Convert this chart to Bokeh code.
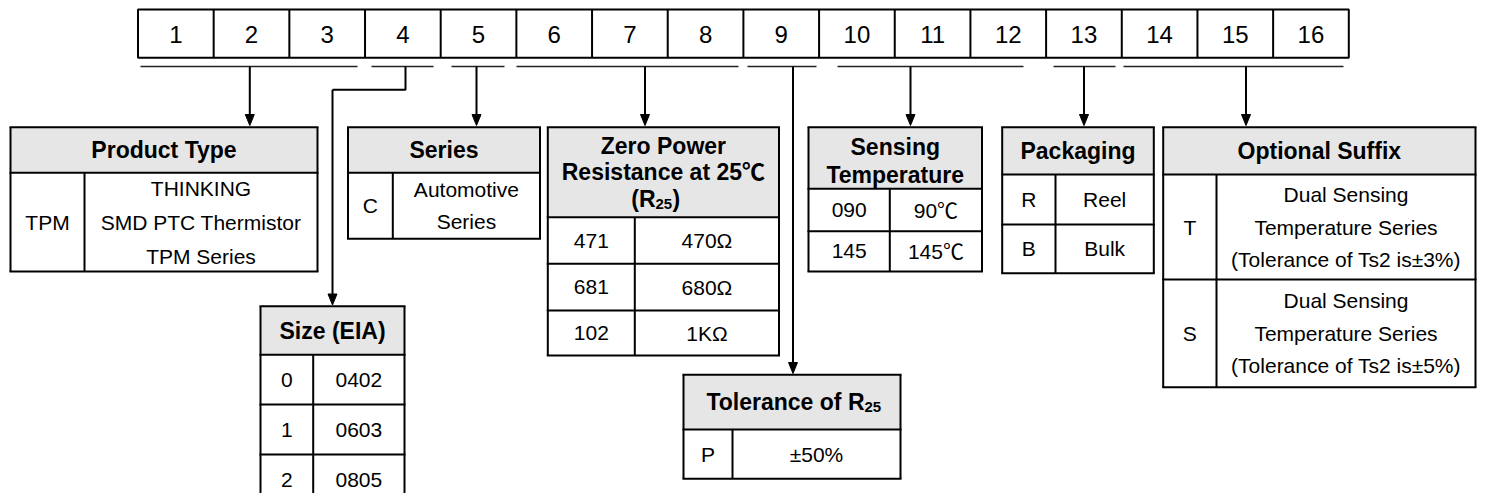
from bokeh.plotting import figure
from bokeh.models import Range1d
from bokeh.core.properties import value
from bokeh.embed import file_html
from bokeh.resources import INLINE

# ---------------- content ----------------
positions = [str(i) for i in range(1, 17)]

product_header = ["Product Type"]
product_codes = ["TPM"]
product_desc = [["THINKING", "SMD PTC Thermistor", "TPM Series"]]

series_header = ["Series"]
series_codes = ["C"]
series_desc = [["Automotive", "Series"]]

size_header = ["Size (EIA)"]
size_codes = ["0", "1", "2"]
size_desc = [["0402"], ["0603"], ["0805"]]

res_header = ["Zero Power", "Resistance at 25\u2103"]
res_codes = ["471", "681", "102"]
res_desc = [["470\u03a9"], ["680\u03a9"], ["1K\u03a9"]]

tol_codes = ["P"]
tol_desc = [["\u00b150%"]]

sens_header = ["Sensing", "Temperature"]
sens_codes = ["090", "145"]
sens_desc = [["90\u2103"], ["145\u2103"]]

pack_header = ["Packaging"]
pack_codes = ["R", "B"]
pack_desc = [["Reel"], ["Bulk"]]

suffix_header = ["Optional Suffix"]
suffix_codes = ["T", "S"]
suffix_desc = [["Dual Sensing", "Temperature Series", "(Tolerance of Ts2 is\u00b13%)"],
               ["Dual Sensing", "Temperature Series", "(Tolerance of Ts2 is\u00b15%)"]]

# ---------------- figure ----------------
W, H = 1480, 493
p = figure(width=W, height=H, x_range=Range1d(0, W), y_range=Range1d(H, 0),
           output_backend="svg", toolbar_location=None, min_border=0,
           x_axis_location=None, y_axis_location=None)
p.grid.visible = False
p.outline_line_color = None
p.background_fill_color = "white"
p.border_fill_color = "white"

FONT = value("Liberation Sans, Noto Sans CJK SC")
LW = 2
HEAD_FILL = "#e6e6e6"


def txt(x, y, s, size=21, bold=False, align="center"):
    p.text(x=[x], y=[y], text=[s], text_font=FONT, text_font_size=f"{size}px",
           text_font_style="bold" if bold else "normal", text_align=align,
           text_baseline="middle", text_color="black")


def hline(x0, x1, y, lw=LW, color="black"):
    p.segment(x0=[x0], y0=[y], x1=[x1], y1=[y], line_width=lw, line_color=color)


def vline(x, y0, y1, lw=LW, color="black"):
    p.segment(x0=[x], y0=[y0], x1=[x], y1=[y1], line_width=lw, line_color=color)


def table(x0, xs, x1, ys, header, header_ys, codes, descs, spacing=33):
    top, hb = ys[0], ys[1]
    p.quad(left=[x0], right=[x1], top=[top], bottom=[hb], fill_color=HEAD_FILL, line_color=None)
    for y in ys:
        hline(x0 - 1, x1 + 1, y)
    vline(x0, top, ys[-1])
    vline(x1, top, ys[-1])
    vline(xs, hb, ys[-1])
    xc = (x0 + x1) / 2
    for line, y in zip(header, header_ys):
        txt(xc, y, line, size=23, bold=True)
    for i, (c, d) in enumerate(zip(codes, descs)):
        yc = (ys[i + 1] + ys[i + 2]) / 2
        txt((x0 + xs) / 2, yc, c)
        n = len(d)
        for k, s in enumerate(d):
            txt((xs + x1) / 2, yc + (k - (n - 1) / 2) * spacing, s)


# ---------------- number strip ----------------
bx0, cw, by0, by1 = 137.5, 75.675, 9, 57.3
p.quad(left=[bx0], right=[bx0 + cw * len(positions)], top=[by0], bottom=[by1],
       fill_color=None, line_color="black", line_width=LW)
for i, s in enumerate(positions):
    if i > 0:
        vline(bx0 + i * cw, by0, by1)
    txt(bx0 + (i + 0.5) * cw, (by0 + by1) / 2 + 1, s, size=24)

# ---------------- underlines & arrows ----------------
UY = 66
for a, b in [(140, 357), (371, 433), (451, 504), (516, 738), (747, 816),
             (837, 1023), (1053, 1115), (1123, 1343)]:
    hline(a, b, UY, lw=1.6, color="#222222")


def arrow(x, y0, tip):
    vline(x, y0, tip - 6)
    p.patch(x=[x - 4.5, x + 4.5, x], y=[tip - 11, tip - 11, tip], fill_color="black",
            line_color="black", line_width=1)


for x in [249.3, 476, 644.5, 910, 1083.5, 1245.5]:
    arrow(x, UY, 125)

# Size connector
p.line(x=[405, 405, 332], y=[UY, 89.3, 89.3], line_width=LW, line_color="black")
arrow(332, 89.3, 304.5)
# Tolerance connector
arrow(792.5, UY, 373)

# ---------------- tables ----------------
table(10, 84, 317, [126.7, 172.3, 271], product_header, [149.5], product_codes, product_desc, spacing=34)
table(347.5, 392.3, 539.5, [126.7, 172.3, 238.3], series_header, [149.5], series_codes, series_desc, spacing=32)
table(260, 312.7, 404, [305.7, 354.3, 404, 454, 504], size_header, [330], size_codes, size_desc)
table(547.3, 634.3, 778.5, [126.7, 216.7, 263.3, 310, 355], res_header, [145, 171], res_codes, res_desc)
# (R25) line
txt(655, 198, "(R", size=23, bold=True, align="right")
txt(655, 203, "25", size=15, bold=True, align="left")
txt(672, 198, ")", size=23, bold=True, align="left")

table(683, 732, 900, [374.3, 429, 478.3], [], [], tol_codes, tol_desc)
txt(864, 401.5, "Tolerance of R", size=23, bold=True, align="right")
txt(864, 406.5, "25", size=15, bold=True, align="left")

table(808, 889.3, 981.5, [126.7, 188.3, 230.7, 271], sens_header, [146.5, 174], sens_codes, sens_desc)
table(1001.7, 1055, 1153.3, [126.7, 174, 224, 272.7], pack_header, [150.3], pack_codes, pack_desc)
table(1162.7, 1216, 1475, [126.7, 174, 279, 386.7], suffix_header, [150.3], suffix_codes, suffix_desc, spacing=32.5)

open("out.html", "w").write(file_html(p, INLINE))
